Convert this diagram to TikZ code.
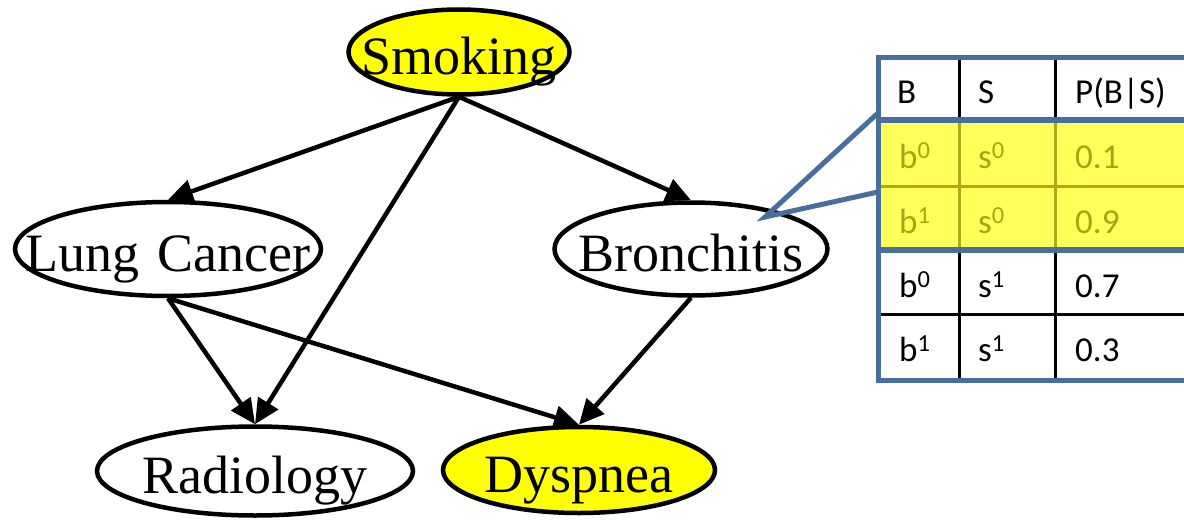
\documentclass[tikz,border=0pt]{standalone}
\usepackage{fontspec}
\setmainfont{Liberation Serif}
\newfontfamily\tabfont{Carlito}
\usetikzlibrary{arrows.meta,shapes.geometric}
\definecolor{nodeyellow}{RGB}{255,255,0}
\definecolor{hiyellow}{RGB}{255,255,90}
\definecolor{olivetext}{RGB}{170,162,20}
\definecolor{oliveline}{RGB}{175,168,25}
\definecolor{callblue}{RGB}{72,110,158}
\begin{document}
\begin{tikzpicture}[x=1pt,y=-1pt,
  bnode/.style={ellipse, draw=black, line width=4.5pt, inner sep=0pt,
    font=\fontsize{54}{54}\selectfont, text height=44pt, text depth=0pt, text width=0pt, align=center},
  observed/.style={bnode, fill=nodeyellow},
  edge/.style={line width=4.5pt, -{Triangle[length=25pt,width=23pt]}},
  cell/.style={anchor=base west, inner sep=0pt, font=\tabfont\fontsize{35}{42}\selectfont},
  hicell/.style={cell, text=olivetext},
  tabline/.style={line width=3pt},
  blueline/.style={draw=callblue, line width=5pt}
]
\useasboundingbox (0,0) rectangle (1184,522);
\clip (0,0) rectangle (1184,522);

% nodes
\node[observed, minimum width=221pt, minimum height=85pt] (smoking) at (459,52) {\makebox[0pt]{Smoking}};
\node[bnode, minimum width=306pt, minimum height=94pt] (lung) at (168,249) {\makebox[0pt]{Lung Cancer}};
\node[bnode, minimum width=273pt, minimum height=93pt] (bron) at (691,249) {\makebox[0pt]{Bronchitis}};
\node[bnode, minimum width=316pt, minimum height=89pt] (radio) at (255,471) {\makebox[0pt]{Radiology}};
\node[observed, minimum width=272pt, minimum height=86pt] (dysp) at (579,470) {\makebox[0pt]{Dyspnea}};

% edges
\draw[edge] (smoking.south) -- (lung.north);
\draw[edge] (smoking.south) -- (radio.north);
\draw[edge] (smoking.south) -- (bron.north);
\draw[edge] (lung.south) -- (radio.north);
\draw[edge] (lung.south) -- (dysp.north);
\draw[edge] (bron.south) -- (dysp.north);

% table
\coordinate (tl) at (878,57);
\coordinate (br) at (1200,380);
\fill[hiyellow] (878,120) rectangle (1200,250);
\draw[tabline, black] (959,57) -- (959,120);
\draw[tabline, black] (1055,57) -- (1055,120);
\draw[tabline, oliveline] (959,120) -- (959,250);
\draw[tabline, oliveline] (1055,120) -- (1055,250);
\draw[tabline, black] (959,250) -- (959,380);
\draw[tabline, black] (1055,250) -- (1055,380);
\draw[tabline, oliveline] (878,186) -- (1200,186);
\draw[tabline, black] (878,314) -- (1200,314);
\draw[blueline] (tl) rectangle (br);
\draw[blueline, line width=6pt] (878,120) -- (1200,120);
\draw[blueline, line width=6pt] (878,250) -- (1200,250);

% callout
\coordinate (ctip) at (765,217);
\coordinate (cup) at (878,113);
\coordinate (clow) at (878,192);
\draw[blueline, line join=miter] (cup) -- (ctip) -- (clow);

% table text
\node[cell] (h1) at (897,103) {B};
\node[cell] (h2) at (978,103) {S};
\node[cell] (h3) at (1075,103) {P(B|S)};
\node[hicell] (a1) at (899,168) {b\textsuperscript{0}};
\node[hicell] (a2) at (978,168) {s\textsuperscript{0}};
\node[hicell] (a3) at (1075,168) {0.1};
\node[hicell] (b1) at (899,233) {b\textsuperscript{1}};
\node[hicell] (b2) at (978,233) {s\textsuperscript{0}};
\node[hicell] (b3) at (1075,233) {0.9};
\node[cell] (c1) at (899,297) {b\textsuperscript{0}};
\node[cell] (c2) at (978,297) {s\textsuperscript{1}};
\node[cell] (c3) at (1075,297) {0.7};
\node[cell] (d1) at (899,361) {b\textsuperscript{1}};
\node[cell] (d2) at (978,361) {s\textsuperscript{1}};
\node[cell] (d3) at (1075,361) {0.3};
\end{tikzpicture}
\end{document}
